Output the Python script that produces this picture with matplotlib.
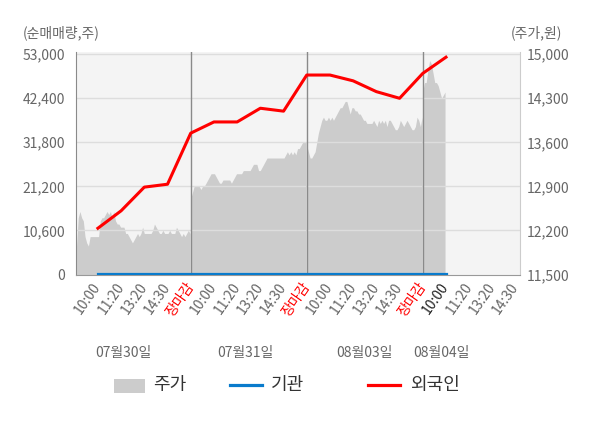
import numpy as np
import matplotlib
matplotlib.use('Agg')
import matplotlib.pyplot as plt
from matplotlib.lines import Line2D
from matplotlib.patches import Rectangle

plt.rcParams['font.family'] = ['Noto Sans CJK KR', 'DejaVu Sans']

# 외국인 / 기관 순매매량 (각 시점: 10:00, 11:20, 13:20, 14:30, 장마감 ...)
foreign = [11100, 15300, 21000, 21700, 34000, 36700, 36700, 40000, 39300,
           48000, 48000, 46600, 44000, 42400, 48400, 52300]
inst = [0, 0, 0, 0, 0, 0, 0, 0, 0, 0, 0, 0, 0, 0, 0, 0]

# 주가 (일자별)
price_d1 = [11950, 12400, 12500, 12400, 12350, 12100, 12000, 11950, 12100, 12100,
            12100, 12100, 12100, 12100, 12350, 12400, 12400, 12450, 12500, 12450,
            12500, 12400, 12500, 12350, 12300, 12300, 12250, 12250, 12250, 12150,
            12150, 12100, 12050, 12000, 12050, 12100, 12150, 12100, 12150, 12250,
            12150, 12150, 12150, 12150, 12150, 12200, 12300, 12250, 12200, 12150,
            12150, 12200, 12150, 12150, 12150, 12200, 12150, 12150, 12150, 12250,
            12200, 12150, 12100, 12150, 12100, 12150, 12200, 12150]
price_d2 = [12700, 12800, 12900, 12900, 12900, 12900, 12850, 12900, 12900, 12950,
            13000, 13050, 13100, 13100, 13100, 13050, 13000, 12950, 12950, 13000,
            13000, 13000, 13000, 13000, 12950, 13000, 13050, 13100, 13100, 13100,
            13100, 13150, 13150, 13150, 13150, 13150, 13200, 13250, 13250, 13250,
            13150, 13150, 13200, 13250, 13300, 13350, 13350, 13350, 13350, 13350,
            13350, 13350, 13350, 13350, 13350, 13350, 13400, 13450, 13400, 13450,
            13400, 13450, 13400, 13500, 13500, 13550, 13600, 13600, 13600]
price_d3 = [13550, 13450, 13350, 13350, 13400, 13450, 13600, 13750, 13850, 13950,
            14000, 13950, 13950, 14000, 13950, 14000, 13950, 14000, 14050, 14100,
            14150, 14150, 14200, 14250, 14250, 14150, 14050, 14150, 14150, 14100,
            14100, 14050, 14050, 14000, 13950, 13950, 13900, 13900, 13900, 13900,
            13950, 13900, 13850, 13950, 13900, 13950, 13900, 13950, 13850, 13950,
            13950, 13900, 13850, 13800, 13800, 13850, 13950, 13900, 13850, 13900,
            13950, 13900, 13850, 13800, 13800, 13850, 14000, 13950, 13850, 14000]
price_d4 = [14400, 14550, 14550, 14750, 14900, 14850, 14700, 14550, 14550, 14500,
            14400, 14300, 14350, 14400]

time_labels = ['10:00', '11:20', '13:20', '14:30', '장마감'] * 3 + ['10:00', '11:20', '13:20', '14:30']
date_labels = ['07월30일', '07월31일', '08월03일', '08월04일']
left_ticks = [0, 10600, 21200, 31800, 42400, 53000]
right_ticks = [11500, 12200, 12900, 13600, 14300, 15000]

fig = plt.figure(figsize=(6, 4.28), dpi=100)
ax = fig.add_axes([76 / 600, 0.3586, 444 / 600, 0.5206])
ax.set_facecolor('#f4f4f4')

# 주가 영역 (오른쪽 축)
spans = [(0.08, 4.97), (5.0, 9.97), (10.0, 14.97), (15.0, 15.96)]
for (s, e), p in zip(spans, [price_d1, price_d2, price_d3, price_d4]):
    xs = np.linspace(s, e, len(p))
    ax.fill_between(xs, 11000, p, color='#cccccc', lw=0, zorder=1)

ax.set_xlim(0.056, 19.19)
ax.set_ylim(11497, 15041)
for t in right_ticks[1:]:
    ax.axhline(t, color='#dddddd', lw=1, zorder=2)
for d in [5, 10, 15]:
    ax.axvline(d, color='#8a8a8a', lw=1, zorder=3)

ax.set_xticks(range(1, 20))
ax.set_xticklabels(time_labels, rotation=55, rotation_mode='anchor', ha='right', va='center')
ax.tick_params(axis='x', length=0, pad=7, labelsize=10)
for i, lab in enumerate(ax.get_xticklabels()):
    if time_labels[i] == '장마감':
        lab.set_color('red')
    elif i == 15:
        lab.set_color('#222222')
    else:
        lab.set_color('#666666')

ax.spines['top'].set_visible(False)
ax.spines['left'].set_color('#8a8a8a')
ax.spines['bottom'].set_color('#999999')
ax.spines['right'].set_color('#cccccc')

# 순매매량 (왼쪽 축)
ax2 = ax.twinx()
ax2.set_ylim(-50, 53620)
ax2.yaxis.tick_left()
ax2.set_yticks(left_ticks)
ax2.set_yticklabels([f'{v:,}' for v in left_ticks])
ax2.tick_params(axis='y', length=0, pad=8, labelsize=10, labelcolor='#666666')
for sp in ['top', 'right', 'left', 'bottom']:
    ax2.spines[sp].set_visible(False)

ax.yaxis.tick_right()
ax.set_yticks(right_ticks)
ax.set_yticklabels([f'{v:,}' for v in right_ticks])
ax.tick_params(axis='y', length=0, pad=5, labelsize=10, labelcolor='#666666')

pos = np.arange(1, len(foreign) + 1)
ax2.plot(pos, inst, color='#0a7bcc', lw=2.3, zorder=4)
ax2.plot(pos, foreign, color='#ff0000', lw=2.2, zorder=5)

fig.text(0.038, 0.923, '(순매매량,주)', ha='left', va='center', fontsize=10, color='#666666')
fig.text(0.937, 0.923, '(주가,원)', ha='right', va='center', fontsize=10, color='#666666')

for xd, lab in zip([2.1, 7.35, 12.5, 15.8], date_labels):
    fig.text((74.7 + 23.2 * xd) / 600, 0.1752, lab, ha='center', va='center',
             fontsize=10, color='#666666')

# 범례
fig.patches.append(Rectangle((0.19, 0.0825), 0.0517, 0.032, transform=fig.transFigure,
                             facecolor='#cccccc', edgecolor='none'))
fig.text(0.255, 0.0993, '주가', ha='left', va='center', fontsize=13, color='#333333')
fig.lines.append(Line2D([0.3833, 0.4362], [0.0993, 0.0993], transform=fig.transFigure,
                        color='#0a7bcc', lw=2.3))
fig.text(0.4517, 0.0993, '기관', ha='left', va='center', fontsize=13, color='#333333')
fig.lines.append(Line2D([0.6133, 0.6667], [0.0993, 0.0993], transform=fig.transFigure,
                        color='#ff0000', lw=2.3))
fig.text(0.6833, 0.0993, '외국인', ha='left', va='center', fontsize=13, color='#333333')

fig.savefig('out.png', dpi=100)
